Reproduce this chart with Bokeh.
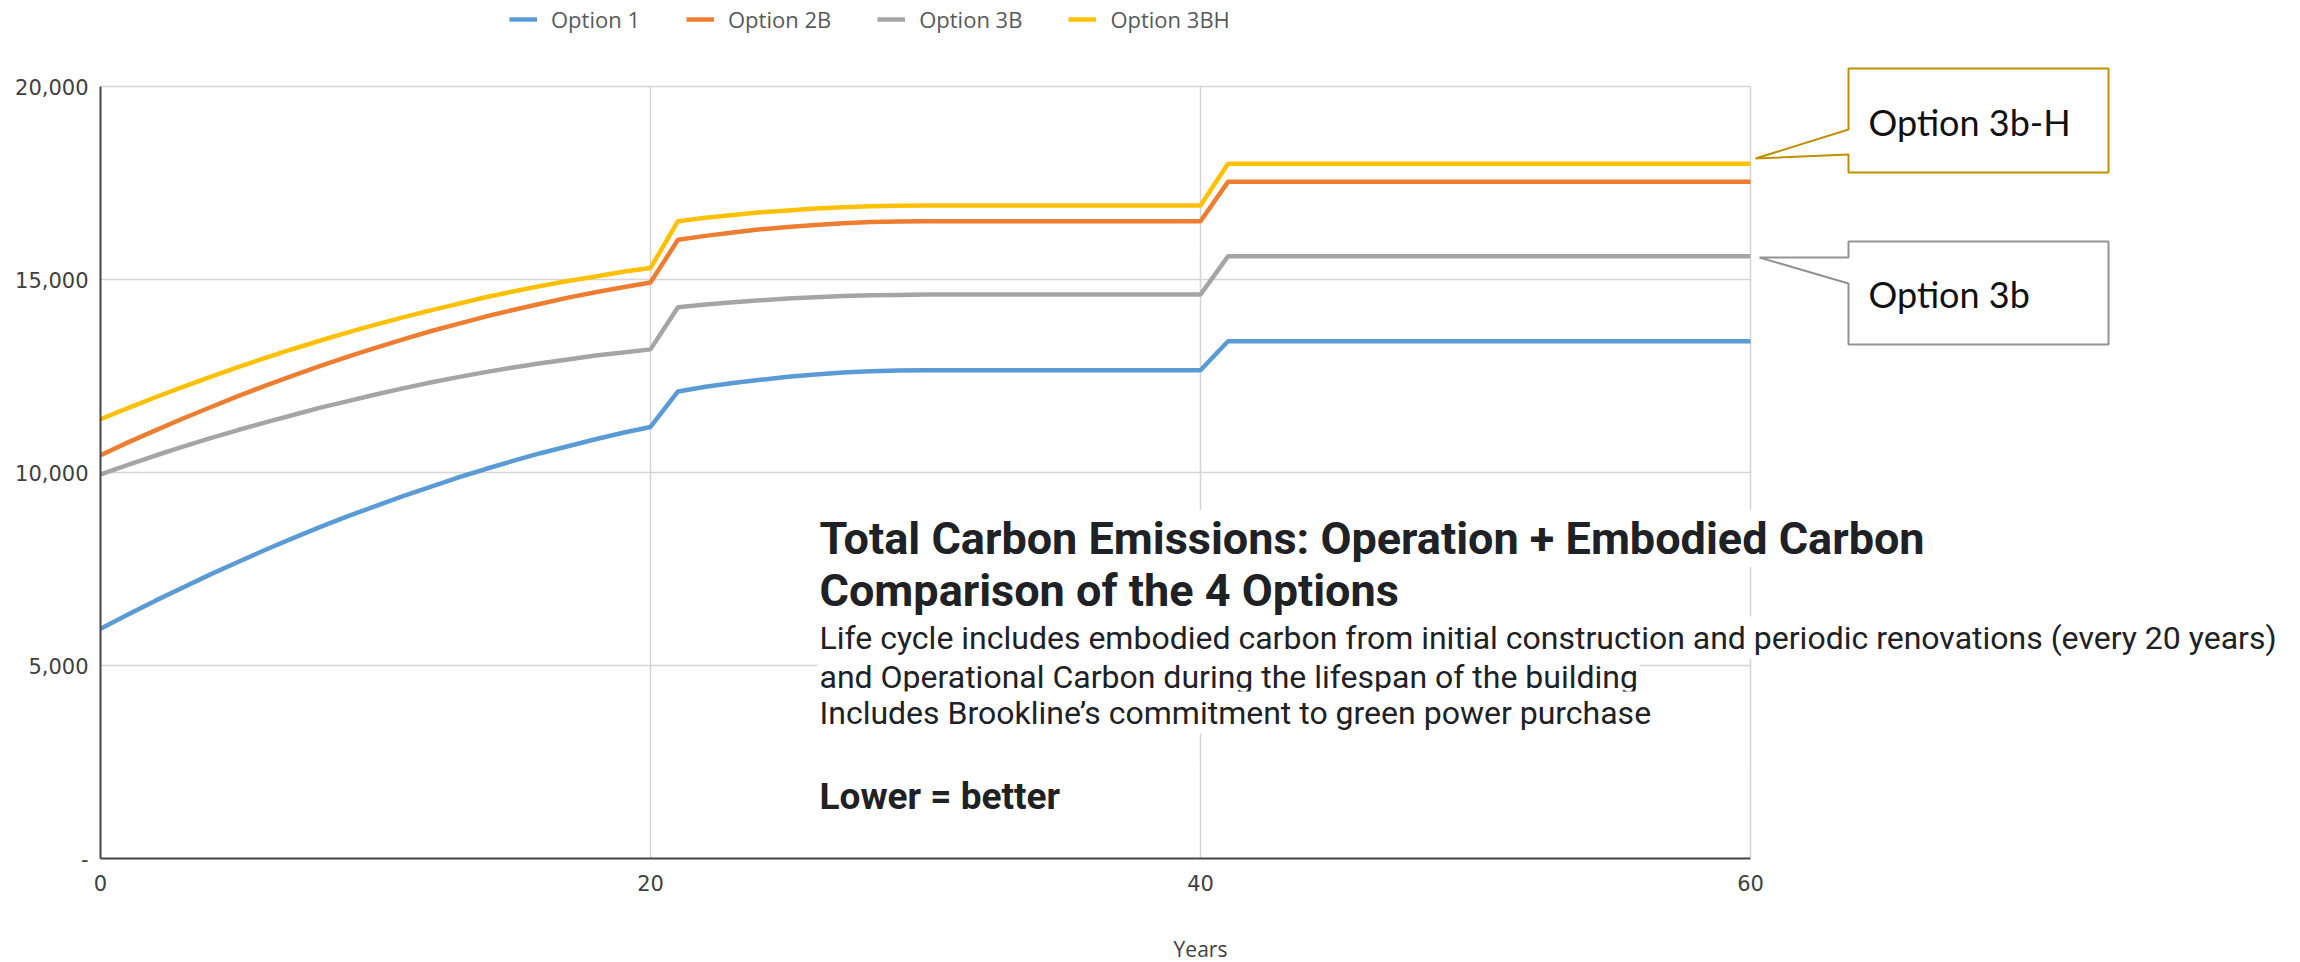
from bokeh.plotting import figure
from bokeh.models import Range1d, FixedTicker, Legend, LegendItem, Label, PolyAnnotation
from bokeh.embed import file_html
from bokeh.resources import INLINE

# ---------------- data ----------------
years = list(range(0, 61))

option_1 = [5950, 6320, 6680, 7020, 7360, 7680, 8000, 8300, 8590, 8870,
            9130, 9390, 9630, 9870, 10090, 10300, 10500, 10680, 10860, 11030,
            11180,
            12100, 12220, 12320, 12400, 12480, 12540, 12590, 12620, 12640, 12650,
            12650, 12650, 12650, 12650, 12650, 12650, 12650, 12650, 12650, 12650,
            13400, 13400, 13400, 13400, 13400, 13400, 13400, 13400, 13400, 13400,
            13400, 13400, 13400, 13400, 13400, 13400, 13400, 13400, 13400, 13400]

option_2b = [10450, 10780, 11090, 11400, 11690, 11980, 12250, 12510, 12760, 13000,
             13230, 13450, 13660, 13850, 14040, 14210, 14370, 14530, 14670, 14800,
             14920,
             16030, 16130, 16220, 16300, 16360, 16410, 16460, 16490, 16500, 16510,
             16510, 16510, 16510, 16510, 16510, 16510, 16510, 16510, 16510, 16510,
             17530, 17530, 17530, 17530, 17530, 17530, 17530, 17530, 17530, 17530,
             17530, 17530, 17530, 17530, 17530, 17530, 17530, 17530, 17530, 17530]

option_3b = [9950, 10200, 10440, 10670, 10890, 11100, 11300, 11490, 11680, 11850,
             12020, 12180, 12330, 12470, 12600, 12720, 12830, 12930, 13030, 13110,
             13190,
             14280, 14350, 14410, 14460, 14510, 14540, 14570, 14590, 14600, 14610,
             14610, 14610, 14610, 14610, 14610, 14610, 14610, 14610, 14610, 14610,
             15600, 15600, 15600, 15600, 15600, 15600, 15600, 15600, 15600, 15600,
             15600, 15600, 15600, 15600, 15600, 15600, 15600, 15600, 15600, 15600]

option_3bh = [11380, 11670, 11950, 12220, 12480, 12730, 12970, 13200, 13420, 13630,
              13830, 14020, 14200, 14370, 14540, 14690, 14830, 14960, 15080, 15200,
              15300,
              16510, 16600, 16670, 16740, 16790, 16840, 16870, 16900, 16910, 16920,
              16920, 16920, 16920, 16920, 16920, 16920, 16920, 16920, 16920, 16920,
              18000, 18000, 18000, 18000, 18000, 18000, 18000, 18000, 18000, 18000,
              18000, 18000, 18000, 18000, 18000, 18000, 18000, 18000, 18000, 18000]

series_names = ["Option 1", "Option 2B", "Option 3B", "Option 3BH"]
series_values = [option_1, option_2b, option_3b, option_3bh]

x_ticks = [0, 20, 40, 60]
y_ticks = [0, 5000, 10000, 15000, 20000]
y_tick_labels = ["-", "5,000", "10,000", "15,000", "20,000"]
x_max, y_max = 60, 20000

x_label = "Years"
title_lines = ["Total Carbon Emissions:  Operation + Embodied Carbon",
               "Comparison of the 4 Options"]
body_lines = ["Life cycle includes embodied carbon from initial construction and periodic renovations (every 20 years)",
              "and Operational Carbon during the lifespan of the building",
              "Includes Brookline\u2019s commitment to green power purchase"]
footer_line = "Lower = better"
callout_texts = ["Option 3b-H", "Option 3b"]

# ---------------- styling / layout ----------------
colors = ["#5B9BD5", "#ED7D31", "#A5A5A5", "#FFC000"]

W, H = 2300, 962                 # canvas pixels
PLOT_L, PLOT_B = 100, 858        # where x=0 / y=0 sit on the canvas
PX_PER_X = 27.5                  # canvas px per year
PX_PER_Y = 772 / 20000           # canvas px per unit


def dx(px):
    return (px - PLOT_L) / PX_PER_X


def dy(py):
    return (PLOT_B - py) / PX_PER_Y


# the frame spans the whole area right of the y axis and above the x axis,
# so that the callouts, legend and text block can be drawn inside it
p = figure(frame_width=W - PLOT_L, frame_height=PLOT_B,
           x_range=Range1d(0, dx(W)), y_range=Range1d(0, dy(0)),
           output_backend="svg", toolbar_location=None,
           min_border_left=PLOT_L, min_border_right=0,
           min_border_top=0, min_border_bottom=H - PLOT_B)
p.outline_line_color = None
p.background_fill_color = "white"
p.border_fill_color = "white"

# grids (limited to the data area)
grid_color, grid_width = "#D4D4D4", 1.5
try:
    p.xgrid.ticker = FixedTicker(ticks=x_ticks)
    p.ygrid.ticker = FixedTicker(ticks=y_ticks)
    p.xgrid.cross_bounds = (0, y_max)
    p.ygrid.cross_bounds = (0, x_max)
    for g in (p.xgrid, p.ygrid):
        g.grid_line_color = grid_color
        g.grid_line_width = grid_width
except AttributeError:
    p.xgrid.visible = False
    p.ygrid.visible = False
    p.segment(x0=x_ticks, x1=x_ticks, y0=[0] * len(x_ticks), y1=[y_max] * len(x_ticks),
              line_color=grid_color, line_width=grid_width)
    p.segment(x0=[0] * len(y_ticks), x1=[x_max] * len(y_ticks), y0=y_ticks, y1=y_ticks,
              line_color=grid_color, line_width=grid_width)

# axes
p.xaxis.ticker = FixedTicker(ticks=x_ticks)
p.yaxis.ticker = FixedTicker(ticks=y_ticks)
p.xaxis.bounds = (0, x_max)
p.yaxis.bounds = (0, y_max)
p.yaxis.major_label_overrides = {t: l for t, l in zip(y_ticks, y_tick_labels)}
for ax in (p.xaxis, p.yaxis):
    ax.axis_line_color = "#454545"
    ax.axis_line_width = 2
    ax.major_tick_line_color = None
    ax.minor_tick_line_color = None
    ax.major_tick_out = 0
    ax.major_tick_in = 0
    ax.minor_tick_out = 0
    ax.major_label_text_font = "DejaVu Sans"
    ax.major_label_text_font_size = "21px"
    ax.major_label_text_color = "#404040"
p.yaxis.major_label_standoff = 12
p.xaxis.major_label_standoff = 16
p.xaxis.axis_label = x_label
p.xaxis.axis_label_text_font = "Open Sans"
p.xaxis.axis_label_text_font_style = "normal"
p.xaxis.axis_label_text_font_size = "21px"
p.xaxis.axis_label_text_color = "#404040"
p.xaxis.axis_label_standoff = 41

# lines
renderers = []
for vals, col in zip(series_values, colors):
    r = p.line(years, vals, line_color=col, line_width=4.5)
    renderers.append(r)

legend = Legend(items=[LegendItem(label=n, renderers=[r]) for n, r in zip(series_names, renderers)],
                orientation="horizontal", location=(409, 824),
                glyph_width=28, glyph_height=24, label_height=24,
                label_standoff=14, spacing=46, padding=0, margin=0,
                label_text_font="Open Sans", label_text_font_size="22px",
                label_text_color="#595959",
                border_line_color=None, background_fill_alpha=0)
p.add_layout(legend)

# callouts
callout_shapes = [
    ([1848, 2108, 2108, 1848, 1848, 1755, 1848], [68, 68, 172, 172, 154, 158, 129], "#BF9000"),
    ([1848, 2108, 2108, 1848, 1848, 1759, 1848], [241, 241, 344, 344, 283, 257, 257], "#939393"),
]
for xs, ys, col in callout_shapes:
    p.add_layout(PolyAnnotation(xs=[dx(v) for v in xs], ys=[dy(v) for v in ys],
                                fill_color="white", fill_alpha=1.0,
                                line_color=col, line_alpha=1.0, line_width=2))
# vertical centres of the callout texts
for txt, mid in zip(callout_texts, [121, 293]):
    p.add_layout(Label(x=dx(1868), y=dy(mid), text=txt, text_baseline="middle",
                       text_font="Lato", text_font_size="36px", text_color="#111111"))

# text block (vertical centres of each line)
for txt, mid in zip(title_lines, [538, 590]):
    p.add_layout(Label(x=dx(817), y=dy(mid), text=txt, text_baseline="middle",
                       text_font="Roboto", text_font_style="bold", text_font_size="45px",
                       text_color="#202124", background_fill_color="white", padding=2))
for txt, mid in zip(body_lines, [637, 676, 712]):
    p.add_layout(Label(x=dx(817), y=dy(mid), text=txt, text_baseline="middle",
                       text_font="Roboto", text_font_size="32px",
                       text_color="#202124", background_fill_color="white", padding=2))
p.add_layout(Label(x=dx(817), y=dy(796), text=footer_line, text_baseline="middle",
                   text_font="Roboto", text_font_style="bold", text_font_size="37px",
                   text_color="#202124", background_fill_color="white", padding=2))

open("out.html", "w").write(file_html(p, INLINE))
